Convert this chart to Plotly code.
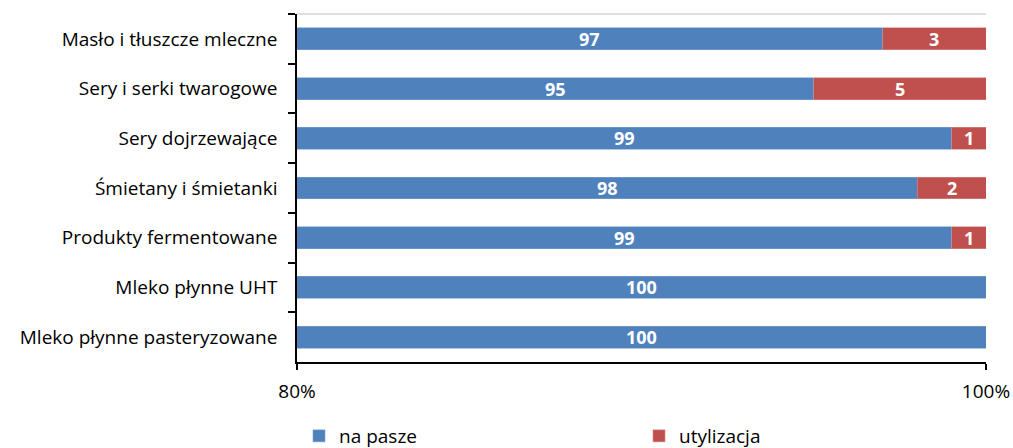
import plotly.graph_objects as go

# Product categories (top to bottom) and destination shares in percent
categories = [
    "Masło i tłuszcze mleczne",
    "Sery i serki twarogowe",
    "Sery dojrzewające",
    "Śmietany i śmietanki",
    "Produkty fermentowane",
    "Mleko płynne UHT",
    "Mleko płynne pasteryzowane",
]
na_pasze = [97, 95, 99, 98, 99, 100, 100]
utylizacja = [3, 5, 1, 2, 1, 0, 0]

axis_min, axis_max = 80, 100
tick_vals = [80, 100]
tick_text = ["80%", "100%"]

BLUE = "#4F81BD"
RED = "#C0504D"
FONT = "Open Sans"
W, H = 1013, 448

fig = go.Figure()
fig.add_trace(go.Bar(
    y=categories, x=na_pasze, orientation="h", name="na pasze",
    marker=dict(color=BLUE, line=dict(color="#7FA3D0", width=0.6)),
    width=0.44, legend="legend",
))
fig.add_trace(go.Bar(
    y=categories, x=utylizacja, orientation="h", name="utylizacja",
    marker=dict(color=RED, line=dict(color="#D98A88", width=0.6)),
    width=0.44, legend="legend2",
))

# Value labels centred on the visible part of each segment
label_font = dict(family=FONT, size=18, color="white")
annotations = []
for cat, b, r in zip(categories, na_pasze, utylizacja):
    annotations.append(dict(
        x=(max(axis_min, 0) + b) / 2, y=cat, xref="x", yref="y",
        text=f"<b>{b}</b>", showarrow=False, font=label_font,
    ))
    if r > 0:
        annotations.append(dict(
            x=b + r / 2, y=cat, xref="x", yref="y",
            text=f"<b>{r}</b>", showarrow=False, font=label_font,
        ))

legend_common = dict(
    orientation="h", xanchor="left", yref="container", yanchor="middle",
    y=1 - 436 / H, xref="container", font=dict(family=FONT, size=19),
    itemwidth=30, bgcolor="rgba(0,0,0,0)",
)

fig.update_layout(
    width=W, height=H,
    margin=dict(l=297, r=27, t=14, b=86, autoexpand=False),
    barmode="stack",
    plot_bgcolor="white", paper_bgcolor="white",
    font=dict(family=FONT, size=19, color="black"),
    showlegend=True,
    legend=dict(legend_common, x=299 / W),
    legend2=dict(legend_common, x=639 / W),
    annotations=annotations,
    shapes=[dict(type="line", xref="paper", yref="paper", x0=0, x1=1, y0=1, y1=1,
                 line=dict(color="#BFBFBF", width=1.2))],
)
fig.update_xaxes(
    range=[axis_min, axis_max], tickvals=tick_vals, ticktext=tick_text,
    showline=True, linecolor="black", linewidth=1.5,
    ticks="outside", ticklen=6, tickcolor="black", tickwidth=1.5,
    showgrid=True, gridcolor="#BFBFBF", gridwidth=1.2,
    zeroline=False, ticklabelstandoff=5,
)
fig.update_yaxes(
    categoryorder="array", categoryarray=categories, autorange="reversed",
    showline=True, linecolor="black", linewidth=1.5,
    ticks="outside", ticklen=7, tickcolor="black", tickwidth=1.5,
    tickson="boundaries", showgrid=False, ticklabelstandoff=14,
)

fig.write_html("out.html")
